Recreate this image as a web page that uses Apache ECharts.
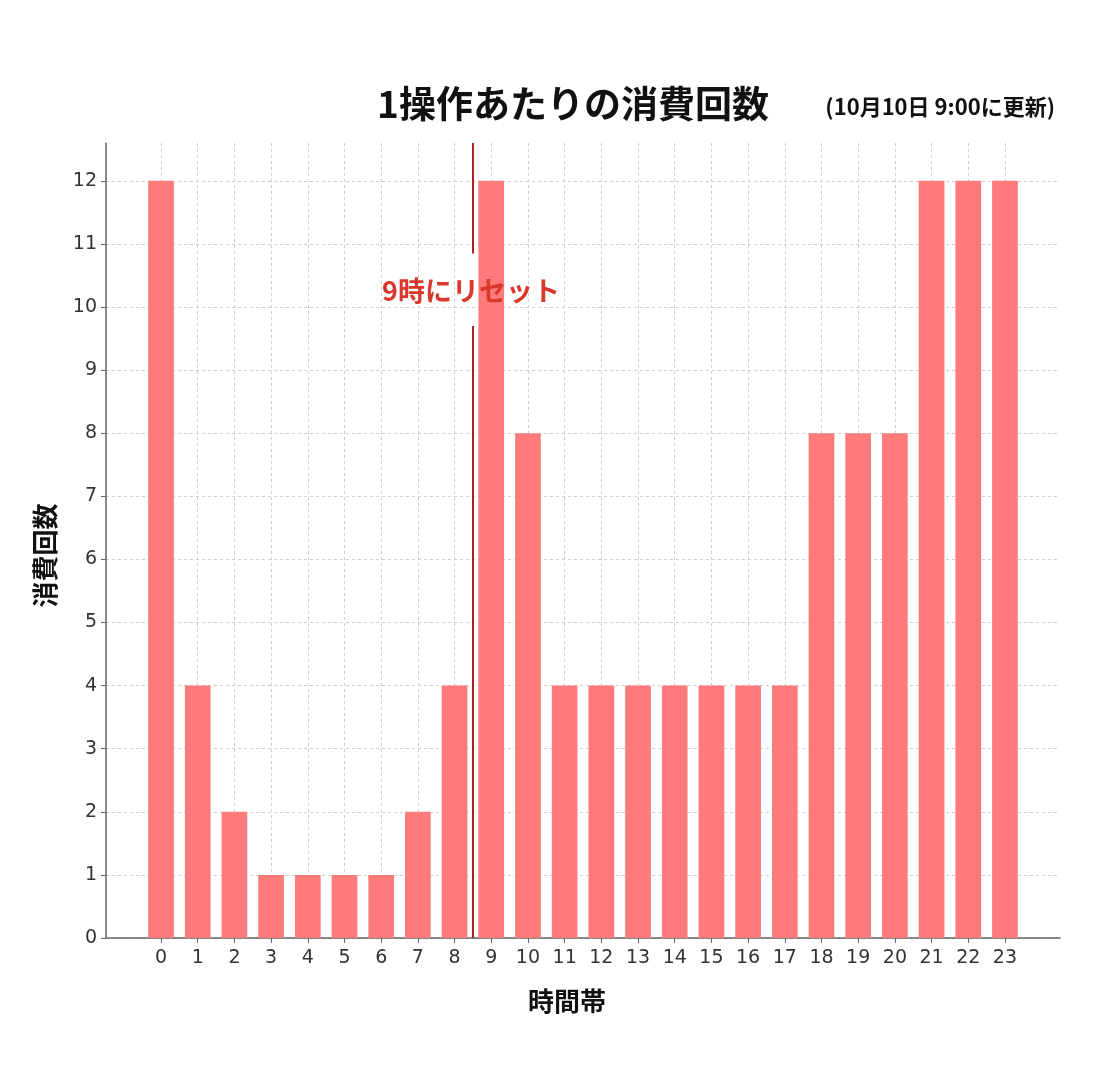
<!DOCTYPE html>
<html>
<head>
<meta charset="utf-8">
<script src="https://cdn.jsdelivr.net/npm/echarts@6/dist/echarts.min.js"></script>
<style>html,body{margin:0;padding:0;background:#fff}#c{width:1100px;height:1086px}</style>
</head>
<body>
<div id="c"></div>
<script>
const hours = [0,1,2,3,4,5,6,7,8,9,10,11,12,13,14,15,16,17,18,19,20,21,22,23];
const counts = [12,4,2,1,1,1,1,2,4,12,8,4,4,4,4,4,4,4,8,8,8,12,12,12];
const yTicks = [0,1,2,3,4,5,6,7,8,9,10,11,12];
const resetHour = 8.5;
const resetLabel = '9時にリセット';
const titleText = '1操作あたりの消費回数';
const subText = '(10月10日 9:00に更新)';
const xName = '時間帯';
const yName = '消費回数';

const FONT = '"DejaVu Sans", "Noto Sans CJK JP", sans-serif';
const JFONT = '"Noto Sans CJK JP", "DejaVu Sans", sans-serif';
const chart = echarts.init(document.getElementById('c'));
chart.setOption({
  animation: false,
  backgroundColor: '#ffffff',
  title: [
    {text: titleText, left: 568, top: 80, textAlign: 'center',
     textStyle: {fontFamily: JFONT, fontSize: 37, fontWeight: 'bold', color: '#111'}},
    {text: subText, right: 40, top: 91,
     textStyle: {fontFamily: JFONT, fontSize: 22, fontWeight: 'bold', color: '#111'}}
  ],
  grid: {left: 106, right: 40, top: 143, bottom: 148},
  xAxis: {
    type: 'value', min: -1.5, max: 24.5,
    name: xName, nameLocation: 'middle', nameGap: 50,
    nameTextStyle: {fontFamily: JFONT, fontSize: 26, fontWeight: 'bold', color: '#111', padding: [0, 32, 0, 0]},
    axisLine: {show: true, onZero: false, lineStyle: {color: '#666', width: 1.5}},
    axisTick: {show: true, customValues: hours, length: 5, lineStyle: {color: '#666'}},
    axisLabel: {customValues: hours, fontFamily: FONT, fontSize: 19, color: '#333', margin: 11},
    splitLine: {show: true, lineStyle: {color: '#cfcfcf', type: [3, 3], width: 1}}
  },
  yAxis: {
    type: 'value', min: 0, max: 12.6,
    name: yName, nameLocation: 'middle', nameGap: 48, nameRotate: 90,
    nameTextStyle: {fontFamily: JFONT, fontSize: 26, fontWeight: 'bold', color: '#111', padding: [0, 30, 0, 0]},
    axisLine: {show: true, onZero: false, lineStyle: {color: '#666', width: 1.5}},
    axisTick: {show: true, customValues: yTicks, length: 5, lineStyle: {color: '#666'}},
    axisLabel: {customValues: yTicks, fontFamily: FONT, fontSize: 19, color: '#333', margin: 9},
    splitLine: {show: true, lineStyle: {color: '#cfcfcf', type: [3, 3], width: 1}}
  },
  series: [{
    type: 'bar',
    data: hours.map((h, i) => [h, counts[i]]),
    barWidth: '70%',
    itemStyle: {color: '#ff7b7b'},
    markLine: {
      silent: true, symbol: 'none',
      lineStyle: {color: '#b02020', width: 2, type: 'solid'},
      label: {show: false},
      data: [
        [{coord: [resetHour, 12.6]}, {coord: [resetHour, 10.85]}],
        [{coord: [resetHour, 9.7]}, {coord: [resetHour, 0]}]
      ]
    },
    markPoint: {
      silent: true, symbol: 'circle', symbolSize: 0,
      data: [{coord: [resetHour - 0.05, 10.26]}],
      label: {show: true, position: 'inside', formatter: resetLabel,
        fontFamily: JFONT, fontSize: 27, fontWeight: 'bold', color: '#d8392c'}
    }
  }]
});
</script>
</body>
</html>
